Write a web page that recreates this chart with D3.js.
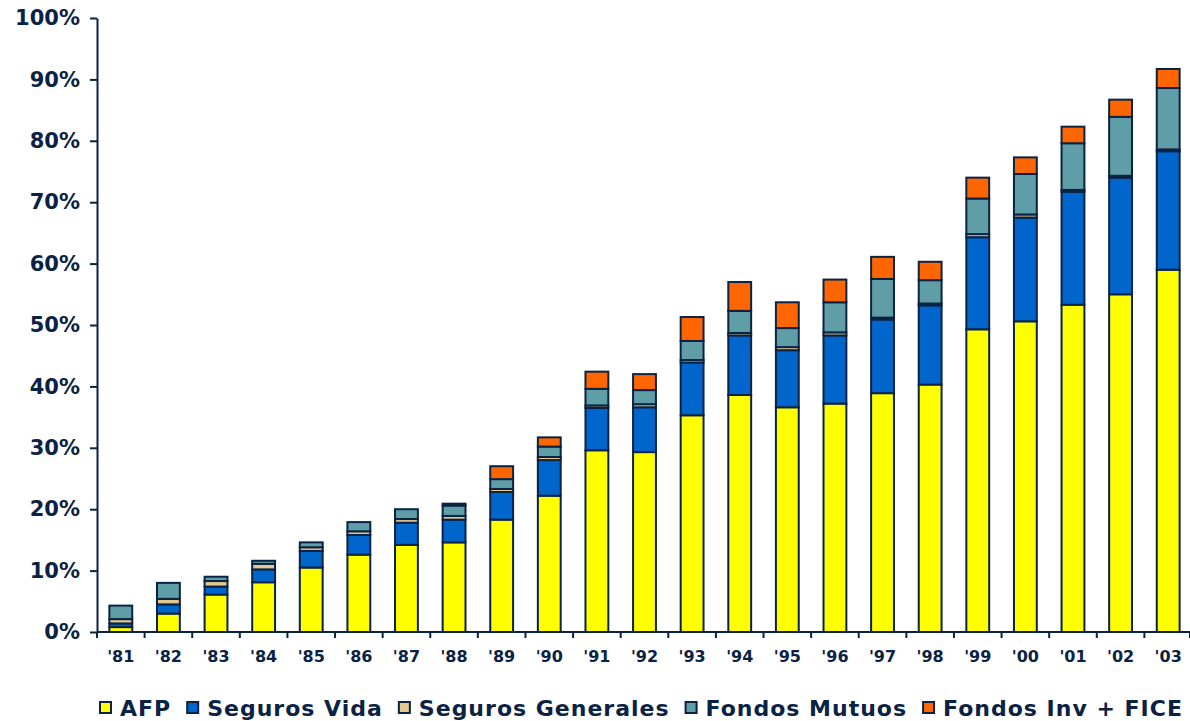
<!DOCTYPE html>
<html>
<head>
<meta charset="utf-8">
<script src="https://cdn.jsdelivr.net/npm/d3@7"></script>
<style>
    body { margin: 0; background: #ffffff; }
    text { font-family: "DejaVu Sans", Verdana, sans-serif; font-weight: bold; fill: #0a2244; }
</style>
</head>
<body>
<div class="chartcontainer"></div>
<script>
const years = ["'81", "'82", "'83", "'84", "'85", "'86", "'87", "'88", "'89", "'90", "'91", "'92",
    "'93", "'94", "'95", "'96", "'97", "'98", "'99", "'00", "'01", "'02", "'03"]

const seriesNames = ['AFP', 'Seguros Vida', 'Seguros Generales', 'Fondos Mutuos', 'Fondos Inv + FICE']
const seriesColors = ['#ffff00', '#0066cc', '#e3c88f', '#5f9ea6', '#ff6600']

const afp = [0.8, 3.0, 6.1, 8.1, 10.5, 12.6, 14.2, 14.6, 18.3, 22.2, 29.6, 29.3,
    35.3, 38.6, 36.6, 37.2, 38.9, 40.3, 49.3, 50.6, 53.3, 55.0, 59.0]
const segurosVida = [0.6, 1.5, 1.3, 2.1, 2.7, 3.2, 3.6, 3.7, 4.5, 5.8, 6.9, 7.3,
    8.6, 9.7, 9.3, 11.1, 12.0, 12.9, 15.0, 16.9, 18.4, 19.0, 19.3]
const segurosGenerales = [0.7, 0.9, 0.9, 0.9, 0.6, 0.6, 0.6, 0.6, 0.5, 0.5, 0.4, 0.5,
    0.4, 0.4, 0.5, 0.5, 0.3, 0.3, 0.5, 0.5, 0.3, 0.3, 0.3]
const fondosMutuos = [2.2, 2.6, 0.7, 0.5, 0.8, 1.5, 1.6, 1.7, 1.6, 1.7, 2.7, 2.3,
    3.1, 3.6, 3.1, 4.9, 6.3, 3.8, 5.8, 6.6, 7.6, 9.6, 10.0]
const fondosInv = [0, 0, 0, 0, 0, 0, 0, 0.3, 2.1, 1.5, 2.8, 2.6,
    3.9, 4.7, 4.2, 3.7, 3.6, 3.0, 3.4, 2.7, 2.7, 2.8, 3.1]

const yTicks = [0, 10, 20, 30, 40, 50, 60, 70, 80, 90, 100]

const w = 1190
const h = 721
const padLeft = 97
const padTop = 18
const axisY = 632
const axisEnd = 1192
const navy = '#0a2244'

// one row per year for d3.stack
const allSeries = [afp, segurosVida, segurosGenerales, fondosMutuos, fondosInv]
const rows = years.map((y, i) => {
    let row = { year: y }
    seriesNames.forEach((name, j) => { row[name] = allSeries[j][i] })
    return row
})
const stacked = d3.stack().keys(seriesNames)(rows)

const xScale = d3.scaleBand()
    .domain(years)
    .range([padLeft, axisEnd])
    .paddingInner(0.52)
    .paddingOuter(0.26)

const yScale = d3.scaleLinear()
    .domain([0, 100])
    .range([axisY, padTop])

const svg = d3.select('.chartcontainer')
    .append('svg')
    .attr('width', w)
    .attr('height', h)

svg.selectAll('g.layer')
    .data(stacked)
    .enter()
    .append('g')
    .attr('class', 'layer')
    .attr('fill', (d, i) => seriesColors[i])
    .selectAll('rect')
    .data(d => d.filter(p => p[1] - p[0] > 0))
    .enter()
    .append('rect')
    .attr('x', d => xScale(d.data.year))
    .attr('y', d => yScale(d[1]))
    .attr('width', xScale.bandwidth())
    .attr('height', d => yScale(d[0]) - yScale(d[1]))
    .attr('stroke', navy)
    .attr('stroke-width', 2)

// y axis
const yAxis = d3.axisLeft(yScale)
    .tickValues(yTicks)
    .tickFormat(d => d + '%')
    .tickSize(7)
    .tickSizeOuter(0)
    .tickPadding(10)

svg.append('g')
    .attr('transform', 'translate(' + padLeft + ',0)')
    .call(yAxis)
    .call(g => g.selectAll('text').style('font-size', '21px').attr('fill', navy))
    .call(g => g.selectAll('line, path').attr('stroke', navy).attr('stroke-width', 2))

// x axis: ticks sit between categories
const boundaries = years.map(y => xScale(y) - xScale.step() * xScale.paddingInner() / 2)
boundaries.push(axisEnd - 2)

const xg = svg.append('g')
xg.append('line')
    .attr('x1', padLeft).attr('x2', axisEnd)
    .attr('y1', axisY).attr('y2', axisY)
    .attr('stroke', navy).attr('stroke-width', 2)
xg.selectAll('line.tick')
    .data(boundaries)
    .enter()
    .append('line')
    .attr('class', 'tick')
    .attr('x1', d => d).attr('x2', d => d)
    .attr('y1', axisY).attr('y2', axisY + 6)
    .attr('stroke', navy).attr('stroke-width', 2)
xg.selectAll('text')
    .data(years)
    .enter()
    .append('text')
    .text(d => d)
    .attr('x', d => xScale(d) + xScale.bandwidth() / 2)
    .attr('y', 662)
    .attr('text-anchor', 'middle')
    .style('font-size', '16px')

// legend
const legend = svg.append('g').attr('transform', 'translate(100,708)')
let lx = 0
seriesNames.forEach((name, i) => {
    legend.append('rect')
        .attr('x', lx).attr('y', -6)
        .attr('width', 11).attr('height', 11)
        .attr('fill', seriesColors[i])
        .attr('stroke', navy).attr('stroke-width', 2)
    let t = legend.append('text')
        .text(name)
        .attr('x', lx + 20)
        .attr('y', 8)
        .style('font-size', '22px')
        .style('letter-spacing', '1px')
    lx += 20 + t.node().getComputedTextLength() + 16
})
</script>
</body>
</html>
